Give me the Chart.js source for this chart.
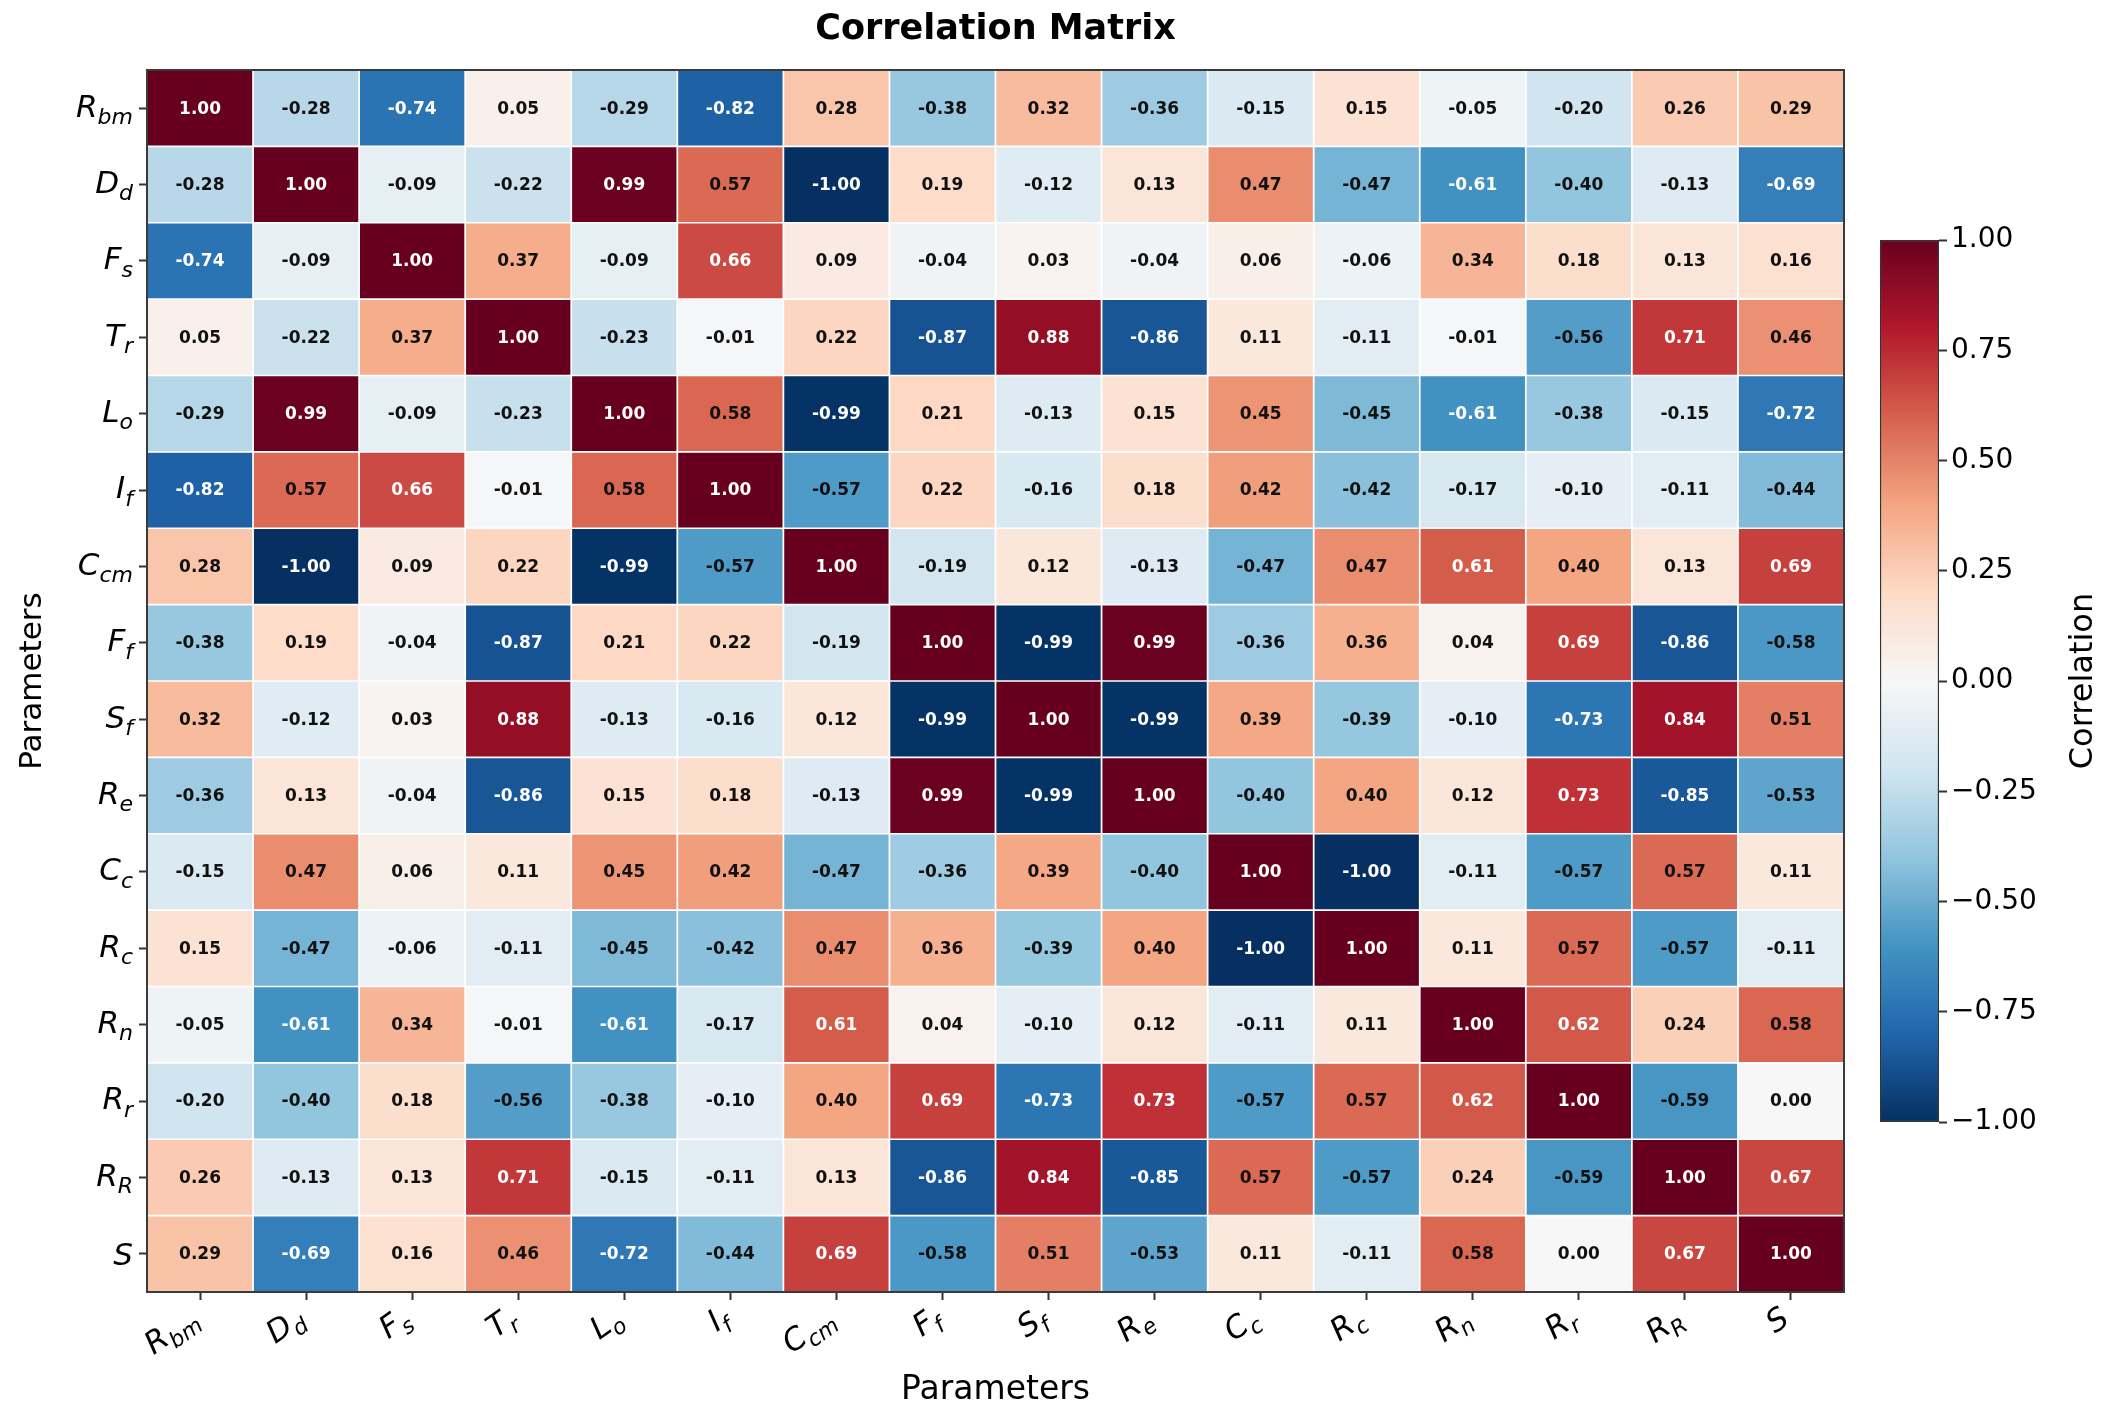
<!DOCTYPE html>
<html>
<head>
<meta charset="utf-8">
<title>Correlation Matrix</title>
<script src="https://cdn.jsdelivr.net/npm/chart.js@4.4.1/dist/chart.umd.min.js"></script>
<style>
  html, body { margin: 0; padding: 0; background: #ffffff; }
  #wrap { position: relative; width: 2111px; height: 1420px; }
  #heat { position: absolute; left: 0; top: 0; width: 2111px; height: 1420px; }
  #cbar { position: absolute; left: 1870px; top: 200px; width: 241px; height: 960px; }
</style>
</head>
<body>
<div id="wrap">
  <canvas id="heat" width="2111" height="1420"></canvas>
  <canvas id="cbar" width="241" height="960"></canvas>
</div>
<script>
// heatmap of parameter correlations + separate colorbar chart

// ------------------------------
// 1. Data
// parameter names are a symbol plus a subscript
const paramSymbols = ['R', 'D', 'F', 'T', 'L', 'I', 'C', 'F', 'S', 'R', 'C', 'R', 'R', 'R', 'R', 'S'];
const paramSubs    = ['bm', 'd', 's', 'r', 'o', 'f', 'cm', 'f', 'f', 'e', 'c', 'c', 'n', 'r', 'R', ''];

// one row of the correlation matrix per parameter (top to bottom)
const rowRbm = [ 1.00, -0.28, -0.74,  0.05, -0.29, -0.82,  0.28, -0.38,  0.32, -0.36, -0.15,  0.15, -0.05, -0.20,  0.26,  0.29];
const rowDd  = [-0.28,  1.00, -0.09, -0.22,  0.99,  0.57, -1.00,  0.19, -0.12,  0.13,  0.47, -0.47, -0.61, -0.40, -0.13, -0.69];
const rowFs  = [-0.74, -0.09,  1.00,  0.37, -0.09,  0.66,  0.09, -0.04,  0.03, -0.04,  0.06, -0.06,  0.34,  0.18,  0.13,  0.16];
const rowTr  = [ 0.05, -0.22,  0.37,  1.00, -0.23, -0.01,  0.22, -0.87,  0.88, -0.86,  0.11, -0.11, -0.01, -0.56,  0.71,  0.46];
const rowLo  = [-0.29,  0.99, -0.09, -0.23,  1.00,  0.58, -0.99,  0.21, -0.13,  0.15,  0.45, -0.45, -0.61, -0.38, -0.15, -0.72];
const rowIf  = [-0.82,  0.57,  0.66, -0.01,  0.58,  1.00, -0.57,  0.22, -0.16,  0.18,  0.42, -0.42, -0.17, -0.10, -0.11, -0.44];
const rowCcm = [ 0.28, -1.00,  0.09,  0.22, -0.99, -0.57,  1.00, -0.19,  0.12, -0.13, -0.47,  0.47,  0.61,  0.40,  0.13,  0.69];
const rowFf  = [-0.38,  0.19, -0.04, -0.87,  0.21,  0.22, -0.19,  1.00, -0.99,  0.99, -0.36,  0.36,  0.04,  0.69, -0.86, -0.58];
const rowSf  = [ 0.32, -0.12,  0.03,  0.88, -0.13, -0.16,  0.12, -0.99,  1.00, -0.99,  0.39, -0.39, -0.10, -0.73,  0.84,  0.51];
const rowRe  = [-0.36,  0.13, -0.04, -0.86,  0.15,  0.18, -0.13,  0.99, -0.99,  1.00, -0.40,  0.40,  0.12,  0.73, -0.85, -0.53];
const rowCc  = [-0.15,  0.47,  0.06,  0.11,  0.45,  0.42, -0.47, -0.36,  0.39, -0.40,  1.00, -1.00, -0.11, -0.57,  0.57,  0.11];
const rowRc  = [ 0.15, -0.47, -0.06, -0.11, -0.45, -0.42,  0.47,  0.36, -0.39,  0.40, -1.00,  1.00,  0.11,  0.57, -0.57, -0.11];
const rowRn  = [-0.05, -0.61,  0.34, -0.01, -0.61, -0.17,  0.61,  0.04, -0.10,  0.12, -0.11,  0.11,  1.00,  0.62,  0.24,  0.58];
const rowRr  = [-0.20, -0.40,  0.18, -0.56, -0.38, -0.10,  0.40,  0.69, -0.73,  0.73, -0.57,  0.57,  0.62,  1.00, -0.59,  0.00];
const rowRR  = [ 0.26, -0.13,  0.13,  0.71, -0.15, -0.11,  0.13, -0.86,  0.84, -0.85,  0.57, -0.57,  0.24, -0.59,  1.00,  0.67];
const rowS   = [ 0.29, -0.69,  0.16,  0.46, -0.72, -0.44,  0.69, -0.58,  0.51, -0.53,  0.11, -0.11,  0.58,  0.00,  0.67,  1.00];

const corrRows = [rowRbm, rowDd, rowFs, rowTr, rowLo, rowIf, rowCcm, rowFf,
                  rowSf, rowRe, rowCc, rowRc, rowRn, rowRr, rowRR, rowS];

// colorbar tick values
const cbTicks = [-1.00, -0.75, -0.50, -0.25, 0.00, 0.25, 0.50, 0.75, 1.00];

// ------------------------------
// 2. Colormap (RdBu reversed, -1 -> dark blue, +1 -> dark red)
const rdbuR = ['#053061', '#2166ac', '#4393c3', '#92c5de', '#d1e5f0', '#f7f7f7',
               '#fddbc7', '#f4a582', '#d6604d', '#b2182b', '#67001f'];

const hexToRgb = h => [1, 3, 5].map(k => parseInt(h.slice(k, k + 2), 16));

function colorFor(v) {
  const t = Math.max(0, Math.min(1, (v + 1) / 2)) * (rdbuR.length - 1);
  const i = Math.min(Math.floor(t), rdbuR.length - 2);
  const f = t - i;
  const a = hexToRgb(rdbuR[i]), b = hexToRgb(rdbuR[i + 1]);
  const c = a.map((x, k) => Math.round(x + (b[k] - x) * f));
  return `rgb(${c[0]},${c[1]},${c[2]})`;
}

const FONT = '"DejaVu Sans", sans-serif';
const paramLabels = paramSymbols.map((s, i) => s + paramSubs[i]);

// ------------------------------
// 3. Helpers for symbol + subscript labels
const LABEL_SIZE = 31;
const SUB_SIZE = Math.round(LABEL_SIZE * 0.7);

function mathWidth(ctx, i) {
  ctx.font = `italic ${LABEL_SIZE}px ${FONT}`;
  let w = ctx.measureText(paramSymbols[i]).width;
  ctx.font = `italic ${SUB_SIZE}px ${FONT}`;
  w += ctx.measureText(paramSubs[i]).width;
  return w;
}

// x = left edge, y = baseline of the main symbol
function drawMath(ctx, i, x, y) {
  ctx.textAlign = 'left';
  ctx.textBaseline = 'alphabetic';
  ctx.font = `italic ${LABEL_SIZE}px ${FONT}`;
  ctx.fillText(paramSymbols[i], x, y);
  const w = ctx.measureText(paramSymbols[i]).width;
  ctx.font = `italic ${SUB_SIZE}px ${FONT}`;
  ctx.fillText(paramSubs[i], x + w, y + LABEL_SIZE * 0.24);
}

// ------------------------------
// 4. Plugins
const cellText = {
  id: 'cellText',
  afterDatasetsDraw(chart) {
    const ctx = chart.ctx;
    ctx.save();
    ctx.font = `bold 17px ${FONT}`;
    ctx.textAlign = 'center';
    ctx.textBaseline = 'middle';
    corrRows.forEach((row, r) => {
      chart.getDatasetMeta(r).data.forEach((bar, c) => {
        const v = row[c];
        ctx.fillStyle = Math.abs(v) >= 0.6 ? '#ffffff' : '#111111';
        ctx.fillText(v.toFixed(2), bar.x, (bar.y + bar.base) / 2 + 1);
      });
    });
    // axes frame
    const a = chart.chartArea;
    ctx.strokeStyle = '#3a3a3a';
    ctx.lineWidth = 2;
    ctx.strokeRect(a.left, a.top, a.right - a.left, a.bottom - a.top);
    ctx.restore();
  }
};

const mathTicks = {
  id: 'mathTicks',
  afterDraw(chart) {
    const ctx = chart.ctx;
    const xs = chart.scales.x, ys = chart.scales.y;
    const a = chart.chartArea;
    ctx.save();
    ctx.fillStyle = '#000000';

    // y labels, right aligned left of the tick marks
    paramSymbols.forEach((s, i) => {
      const y = ys.getPixelForValue(i + 0.5);
      const w = mathWidth(ctx, i);
      const off = paramSubs[i] ? 0.27 : 0.36;
      drawMath(ctx, i, a.left - 14 - w, y + LABEL_SIZE * off);
    });

    // x labels, rotated, right/top anchored under each tick
    const th = 35 * Math.PI / 180;
    paramSymbols.forEach((s, i) => {
      const x = xs.getPixelForValue(i);
      const L = mathWidth(ctx, i);
      const h = LABEL_SIZE * 0.95;
      const w = L * Math.cos(th) + h * Math.sin(th);
      const H = L * Math.sin(th) + h * Math.cos(th);
      ctx.save();
      ctx.translate(x - w / 2 + 4, a.bottom + 12 + H / 2);
      ctx.rotate(-th);
      drawMath(ctx, i, -L / 2, LABEL_SIZE * 0.26);
      ctx.restore();
    });
    ctx.restore();
  }
};

// ------------------------------
// 5. Heatmap chart: one stacked bar dataset per row
const datasets = corrRows.map((row, r) => ({
  label: paramLabels[r],
  data: row.map(() => 1),
  backgroundColor: row.map(colorFor),
  borderColor: '#ffffff',
  borderWidth: 1.2,
  borderSkipped: false,
  barPercentage: 1,
  categoryPercentage: 1
}));

new Chart(document.getElementById('heat'), {
  type: 'bar',
  data: { labels: paramLabels, datasets },
  options: {
    responsive: false,
    animation: false,
    devicePixelRatio: 1,
    layout: { padding: { left: 0, right: 267, top: 0, bottom: 0 } },
    plugins: {
      legend: { display: false },
      tooltip: { enabled: false },
      title: {
        display: true,
        fullSize: false,
        text: 'Correlation Matrix',
        color: '#000000',
        font: { family: FONT, size: 35, weight: 'bold' },
        padding: { top: 9, bottom: 19 }
      }
    },
    scales: {
      x: {
        type: 'category',
        stacked: true,
        offset: true,
        afterFit: s => { s.height = 128; },
        ticks: { display: false },
        grid: { offset: false, drawOnChartArea: false, drawTicks: true, tickLength: 8, tickColor: '#333333', tickWidth: 2 },
        border: { display: false },
        title: {
          display: true, text: 'Parameters', color: '#000000',
          font: { family: FONT, size: 33 }, padding: { top: 0, bottom: 10 }
        }
      },
      y: {
        type: 'linear',
        stacked: true,
        reverse: true,
        min: 0,
        max: paramSymbols.length,
        afterBuildTicks: s => { s.ticks = paramSymbols.map((_, i) => ({ value: i + 0.5 })); },
        afterFit: s => { s.width = 147; },
        ticks: { display: false },
        grid: { drawOnChartArea: false, drawTicks: true, tickLength: 8, tickColor: '#333333', tickWidth: 2 },
        border: { display: false },
        title: {
          display: true, text: 'Parameters', color: '#000000',
          font: { family: FONT, size: 31 }, padding: { top: 14, bottom: 0 }
        }
      }
    }
  },
  plugins: [cellText, mathTicks]
});

// ------------------------------
// 6. Colorbar: one floating bar from -1 to 1 with a gradient fill
const cbTitle = {
  id: 'cbTitle',
  afterDraw(chart) {
    const ctx = chart.ctx;
    const a = chart.chartArea;
    ctx.save();
    ctx.translate(chart.scales.y.right - 27, (a.top + a.bottom) / 2);
    ctx.rotate(-Math.PI / 2);
    ctx.font = `32px ${FONT}`;
    ctx.fillStyle = '#000000';
    ctx.textAlign = 'center';
    ctx.textBaseline = 'middle';
    ctx.fillText('Correlation', 0, 0);
    ctx.restore();
  }
};

function barGradient(context) {
  const { ctx, chartArea, scales } = context.chart;
  if (!chartArea || !scales.y) return rdbuR[5];
  const y0 = scales.y.getPixelForValue(cbTicks[0]);
  const y1 = scales.y.getPixelForValue(cbTicks[cbTicks.length - 1]);
  if (!isFinite(y0) || !isFinite(y1)) return rdbuR[5];
  const g = ctx.createLinearGradient(0, y0, 0, y1);
  rdbuR.forEach((c, k) => g.addColorStop(k / (rdbuR.length - 1), c));
  return g;
}

new Chart(document.getElementById('cbar'), {
  type: 'bar',
  data: {
    labels: [''],
    datasets: [{
      data: [[cbTicks[0], cbTicks[cbTicks.length - 1]]],
      backgroundColor: barGradient,
      borderColor: '#333333',
      borderWidth: 1.5,
      borderSkipped: false,
      barPercentage: 1,
      categoryPercentage: 1
    }]
  },
  options: {
    responsive: false,
    animation: false,
    devicePixelRatio: 1,
    layout: { padding: { left: 10, right: 0, top: 40, bottom: 38 } },
    plugins: { legend: { display: false }, tooltip: { enabled: false } },
    scales: {
      x: { display: false },
      y: {
        position: 'right',
        min: -1,
        max: 1,
        afterBuildTicks: s => { s.ticks = cbTicks.map(v => ({ value: v })); },
        afterFit: s => { s.width = 172; },
        ticks: {
          color: '#000000',
          padding: 4,
          font: { family: FONT, size: 28 },
          callback: v => (v < 0 ? '\u2212' : '') + Math.abs(v).toFixed(2)
        },
        grid: { drawOnChartArea: false, drawTicks: true, tickLength: 8, tickColor: '#333333', tickWidth: 2 },
        border: { display: false }
      }
    }
  },
  plugins: [cbTitle]
});
</script>
</body>
</html>
